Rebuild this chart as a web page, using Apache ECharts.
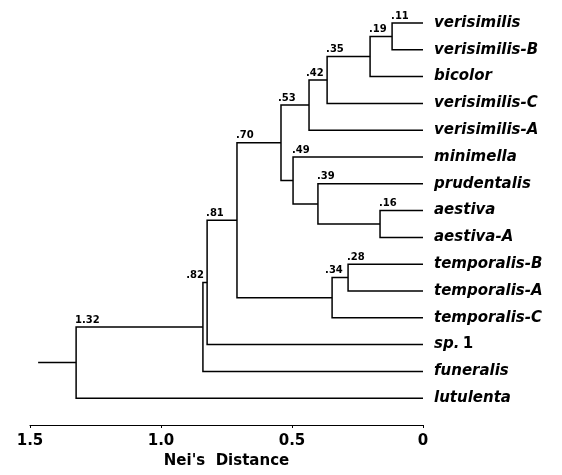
<!DOCTYPE html>
<html><head><meta charset="utf-8">
<script src="https://cdn.jsdelivr.net/npm/echarts@6/dist/echarts.min.js"></script>
<style>html,body{margin:0;padding:0;background:#fff}#c{width:562px;height:475px}</style>
</head><body><div id="c"></div>
<script>
// Leaves, top to bottom
var leaves = ['verisimilis','verisimilis-B','bicolor','verisimilis-C','verisimilis-A','minimella','prudentalis','aestiva','aestiva-A','temporalis-B','temporalis-A','temporalis-C','sp. 1','funeralis','lutulenta'];
// Internal nodes: [childA, childB]; children are leaf names or node ids
var nodeIds     = ['n11','n19','n35','n42','n16','n39','n49','n53','n28','n34','n70','n81','n82','n132'];
var nodeLeft    = ['verisimilis','n11','n19','n35','aestiva','prudentalis','minimella','n42','temporalis-B','n28','n53','n70','n81','n82'];
var nodeRight   = ['verisimilis-B','bicolor','verisimilis-C','verisimilis-A','aestiva-A','n16','n39','n49','temporalis-A','temporalis-C','n34','sp. 1','funeralis','lutulenta'];
// Nei's distance of each node
var nodeHeight  = [0.118,0.202,0.366,0.435,0.164,0.401,0.496,0.542,0.286,0.347,0.71,0.824,0.84,1.324];
var nodeLabel   = ['.11','.19','.35','.42','.16','.39','.49','.53','.28','.34','.70','.81','.82','1.32'];
var rootStart   = 1.469;
var xTicks      = [0, 0.5, 1.0, 1.5];
var xTickLabels = ['0','0.5','1.0','1.5'];

var pos = {};
leaves.forEach(function(n,i){ pos[n] = {x:0, y:i}; });
var segs = [], nodePts = [];
nodeIds.forEach(function(id,k){
  var a = pos[nodeLeft[k]], b = pos[nodeRight[k]], h = nodeHeight[k];
  var top = a.y < b.y ? a : b;
  segs.push({coords:[[a.x,a.y],[h,a.y],[h,b.y],[b.x,b.y]]});
  pos[id] = {x:h, y:(a.y+b.y)/2};
  nodePts.push({value:[h, top.y], name: nodeLabel[k]});
});
var root = pos['n132'];
segs.push({coords:[[rootStart, root.y],[root.x, root.y]]});

var labelFix = {'.82': {align:'right', offset:[1,0]}, '.34': {offset:[-7,0]}, '.42': {offset:[-3,0]}, '.53': {offset:[-3,0]}};
nodePts.forEach(function(p){
  var f = labelFix[p.name];
  if (f) p.label = {align: f.align || 'left', offset: f.offset};
});

var chart = echarts.init(document.getElementById('c'), null, {renderer:'canvas'});
chart.setOption({
  animation:false,
  backgroundColor:'#fff',
  grid:{left:30, right:139, top:9.6, bottom:50},
  xAxis:{
    type:'value', inverse:true, min:0, max:1.5, interval:0.5, position:'bottom',
    axisLine:{show:true, onZero:false, lineStyle:{color:'#000', width:1.2}},
    axisTick:{show:true, length:3, lineStyle:{color:'#000'}},
    splitLine:{show:false},
    axisLabel:{margin:9, color:'#000', fontFamily:'DejaVu Sans', fontWeight:'bold', fontSize:15,
      formatter:function(v){ var i = xTicks.indexOf(v); return i>=0 ? xTickLabels[i] : ''; }},
    name:"Nei's  Distance", nameLocation:'middle', nameGap:27,
    nameTextStyle:{color:'#000', fontFamily:'DejaVu Sans', fontWeight:'bold', fontSize:15}
  },
  yAxis:{type:'value', inverse:true, min:-0.5, max:15, show:false},
  series:[
    {type:'lines', coordinateSystem:'cartesian2d', polyline:true, silent:true,
     lineStyle:{color:'#000', width:1.5, opacity:1}, data:segs},
    {type:'scatter', symbolSize:0, silent:true, itemStyle:{opacity:1, color:'#000'},
     data: nodePts,
     label:{show:true, position:'top', distance:2, align:'left', offset:[-1,0],
       formatter:function(p){return p.name;}, color:'#000', fontFamily:'DejaVu Sans', fontWeight:'bold', fontSize:10}},
    {type:'scatter', symbolSize:0, silent:true, itemStyle:{opacity:1, color:'#000'},
     data: leaves.map(function(n,i){ return {value:[0,i], name:n}; }),
     label:{show:true, position:'right', distance:11,
       formatter:function(p){
         if (p.name === 'sp. 1') return '{i|sp.} {n|1}';
         return '{i|' + p.name + '}';
       },
       rich:{
         i:{color:'#000', fontFamily:'DejaVu Sans', fontWeight:'bold', fontStyle:'italic', fontSize:15},
         n:{color:'#000', fontFamily:'DejaVu Sans', fontWeight:'bold', fontSize:15}
       }}}
  ]
});
</script></body></html>
